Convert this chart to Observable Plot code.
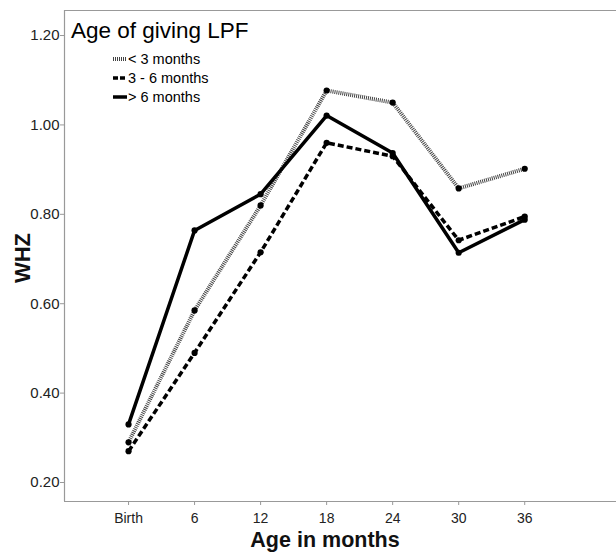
<!DOCTYPE html>
<html>
<head>
<meta charset="utf-8">
<script src="https://cdn.jsdelivr.net/npm/d3@7"></script>
<script src="https://cdn.jsdelivr.net/npm/@observablehq/plot@0.6"></script>
<style>
  html, body { margin: 0; padding: 0; background: #fff; }
  #wrap { position: relative; width: 616px; height: 554px; font-family: "Liberation Sans", Arial, sans-serif; }
</style>
</head>
<body>
<div id="wrap"></div>
<script>
const ageLabels = ["Birth", "6", "12", "18", "24", "30", "36"];
const seriesNames = ["< 3 months", "3 - 6 months", "> 6 months"];
const under3 = [0.29, 0.585, 0.82, 1.077, 1.05, 0.858, 0.902];
const from3to6 = [0.27, 0.49, 0.715, 0.96, 0.93, 0.742, 0.795];
const over6 = [0.33, 0.764, 0.845, 1.021, 0.937, 0.714, 0.788];
const yTicks = [0.2, 0.4, 0.6, 0.8, 1.0, 1.2];

const styles = {
  "< 3 months": {stroke: "#444", strokeWidth: 4, dash: "1,1"},
  "3 - 6 months": {stroke: "#000", strokeWidth: 3.5, dash: "6,3"},
  "> 6 months": {stroke: "#000", strokeWidth: 3.5, dash: null}
};

const seriesValues = [under3, from3to6, over6];
const data = [];
seriesNames.forEach((s, si) => {
  seriesValues[si].forEach((v, i) => data.push({series: s, idx: i, value: v}));
});

const lineMarks = seriesNames.map(s => Plot.line(data.filter(d => d.series === s), {
  x: "idx", y: "value",
  stroke: styles[s].stroke, strokeWidth: styles[s].strokeWidth,
  strokeDasharray: styles[s].dash, strokeLinejoin: "miter", strokeLinecap: "butt"
}));

const chart = Plot.plot({
  width: 616,
  height: 554,
  marginLeft: 64,
  marginRight: 0,
  marginTop: 10,
  marginBottom: 53,
  style: {fontFamily: "Liberation Sans, Arial, sans-serif", background: "#fff"},
  x: {type: "linear", domain: [-0.97, 7.39]},
  y: {type: "linear", domain: [0.1575, 1.256]},
  marks: [
    Plot.ruleY([1.256], {stroke: "#999", strokeWidth: 1.2}),
    Plot.ruleY([0.1575], {stroke: "#999", strokeWidth: 1.2}),
    Plot.ruleX([-0.97], {stroke: "#999", strokeWidth: 1.2}),
    Plot.axisY({ticks: yTicks, tickFormat: d3.format(".2f"), tickSize: 4, tickPadding: 1, stroke: "#999",
      fontSize: 15, fill: "#222", label: null}),
    Plot.axisX({ticks: ageLabels.map((d, i) => i), tickFormat: i => ageLabels[i], tickSize: 4, tickPadding: 8,
      stroke: "#999", fontSize: 14, fill: "#222", label: null}),
    ...lineMarks,
    Plot.dot(data, {x: "idx", y: "value", r: 3.1, fill: "#000", stroke: "none"})
  ]
});

const wrap = document.getElementById("wrap");
wrap.appendChild(chart);

const font = "Liberation Sans, Arial, sans-serif";
const svg = d3.select(chart);
// Axis titles
svg.append("text").attr("x", 325).attr("y", 547).attr("text-anchor", "middle")
  .attr("font-size", 21.5).attr("font-weight", "bold").attr("fill", "#111")
  .attr("font-family", font).text("Age in months");
svg.append("text").attr("transform", "translate(30,258) rotate(-90)").attr("text-anchor", "middle")
  .attr("font-size", 22).attr("font-weight", "bold").attr("fill", "#111")
  .attr("font-family", font).text("WHZ");

// Legend
const lg = svg.append("g").attr("font-family", font).attr("fill", "#000").attr("text-anchor", "start");
lg.append("text").attr("x", 71).attr("y", 38).attr("text-anchor", "start").attr("font-size", 22.5).text("Age of giving LPF");
seriesNames.forEach((s, i) => {
  const st = styles[s];
  const yb = 64 + i * 19;
  lg.append("line").attr("x1", 113).attr("x2", 127).attr("y1", yb - 5).attr("y2", yb - 5)
    .attr("stroke", st.stroke).attr("stroke-width", st.strokeWidth)
    .attr("stroke-dasharray", st.dash ? (st.dash === "1,1" ? "1,1" : "5,2") : null);
  lg.append("text").attr("x", 128).attr("y", yb).attr("text-anchor", "start").attr("font-size", 14.5).text(s);
});
</script>
</body>
</html>
